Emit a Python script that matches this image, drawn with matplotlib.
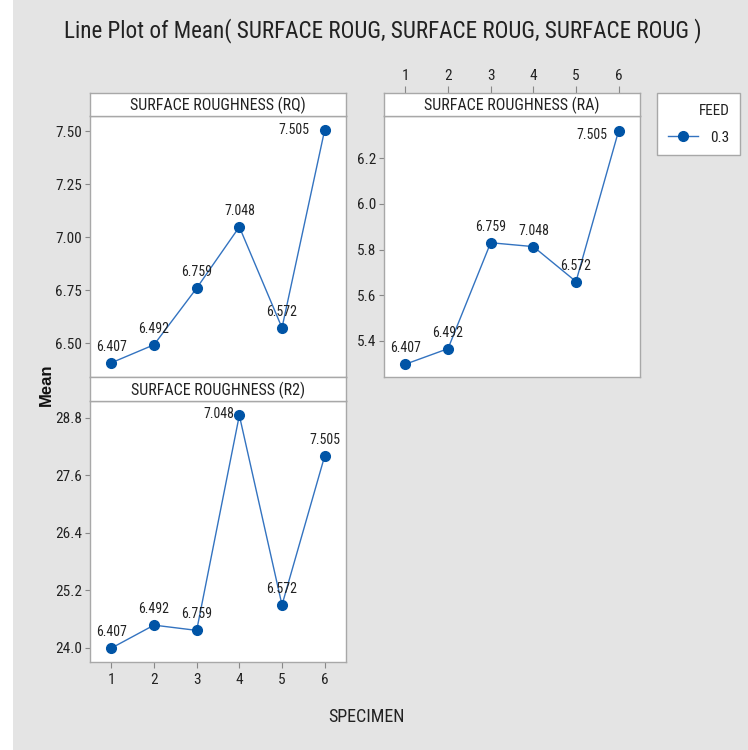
import matplotlib
matplotlib.use('Agg')
import matplotlib.pyplot as plt
from matplotlib import font_manager
from matplotlib.lines import Line2D

# =========================================================
# data
# =========================================================
specimen     = [1, 2, 3, 4, 5, 6]
rq_mean      = [6.407, 6.492, 6.759, 7.048, 6.572, 7.505]
ra_mean      = [5.298, 5.366, 5.830, 5.813, 5.660, 6.321]
r2_mean      = [23.99, 24.47, 24.36, 28.85, 24.89, 28.00]
point_labels = ['6.407', '6.492', '6.759', '7.048', '6.572', '7.505']
rq_yticks    = [6.50, 6.75, 7.00, 7.25, 7.50]
ra_yticks    = [5.4, 5.6, 5.8, 6.0, 6.2]
r2_yticks    = [24.0, 25.2, 26.4, 27.6, 28.8]
feed_level   = '0.3'

# =========================================================
# style
# =========================================================
W, H      = 748, 750
BG        = '#E4E4E4'
EDGE      = '#A8A8A8'
TXT       = '#222222'
LINE_C    = '#3373C0'
MARK_C    = '#0054A6'

names = {f.name for f in font_manager.fontManager.ttflist}
NARROW = next((n for n in ['Liberation Sans Narrow', 'Roboto Condensed',
                           'Open Sans Condensed', 'Noto Sans Condensed']
               if n in names), 'DejaVu Sans')
plt.rcParams['font.family'] = [NARROW, 'DejaVu Sans']


def box(l, t, r, b):
    # pixel box -> figure fraction
    return [l / W, 1 - b / H, (r - l) / W, (b - t) / H]


def strip(rect, title):
    ax = fig.add_axes(rect)
    ax.set_facecolor('white')
    ax.set_xlim(0.5, 6.5)
    ax.set_xticks([])
    ax.set_yticks([])
    for s in ax.spines.values():
        s.set_color(EDGE)
        s.set_linewidth(1.0)
    ax.text(0.5, 0.45, title, ha='center', va='center', fontsize=11.5,
            color=TXT, transform=ax.transAxes)
    return ax


def panel(rect, values, yticks, ylim, offsets, fmt):
    ax = fig.add_axes(rect)
    ax.set_facecolor('white')
    ax.plot(specimen, values, '-', color=LINE_C, linewidth=1.0, zorder=2)
    ax.plot(specimen, values, 'o', color=MARK_C, markersize=7, zorder=3)
    for x, y, lab, (dx, dy, ha) in zip(specimen, values, point_labels, offsets):
        ax.annotate(lab, (x, y), xytext=(dx, dy), textcoords='offset points',
                    ha=ha, va='center', fontsize=10, color=TXT)
    ax.set_xlim(0.5, 6.5)
    ax.set_ylim(*ylim)
    ax.set_yticks(yticks)
    ax.set_yticklabels([fmt.format(v) for v in yticks])
    ax.set_xticks([])
    ax.tick_params(axis='y', length=3.5, width=0.8, color='#888888',
                   labelsize=11, labelcolor=TXT, pad=2)
    for s in ax.spines.values():
        s.set_color(EDGE)
        s.set_linewidth(1.0)
    return ax


UP = (0, 11.5, 'center')

fig = plt.figure(figsize=(W / 100, H / 100), dpi=100)
fig.patch.set_facecolor(BG)
# white margin on the left edge
fig.add_artist(plt.Rectangle((0, 0), 13 / W, 1, transform=fig.transFigure,
                             facecolor='white', edgecolor='none'))

# RQ panel
panel(box(90, 116, 346, 377), rq_mean, rq_yticks, (6.34, 7.571),
      [UP, UP, UP, UP, UP, (-11, 0, 'right')], '{:.2f}')
strip(box(90, 93, 346, 116), 'SURFACE ROUGHNESS (RQ)')

# RA panel (x ticks on top of strip)
panel(box(384, 116, 640, 377), ra_mean, ra_yticks, (5.242, 6.385),
      [UP, UP, UP, UP, UP, (-8, -3.5, 'right')], '{:.1f}')
s_ra = strip(box(384, 93, 640, 116), 'SURFACE ROUGHNESS (RA)')
s_ra.xaxis.tick_top()
s_ra.set_xticks(specimen)
s_ra.set_xticklabels([str(v) for v in specimen])
s_ra.tick_params(axis='x', length=5, width=0.8, color='#888888',
                 labelsize=11, labelcolor=TXT, pad=2)

# R2 panel (x ticks on bottom)
ax_r2 = panel(box(90, 400.5, 346, 662), r2_mean, r2_yticks, (23.70, 29.16),
              [UP, UP, UP, (-4, 1.2, 'right'), UP, UP], '{:.1f}')
ax_r2.set_xticks(specimen)
ax_r2.set_xticklabels([str(v) for v in specimen])
ax_r2.tick_params(axis='x', length=4, width=0.8, color='#888888',
                  labelsize=11, labelcolor=TXT, pad=4)
strip(box(90, 377, 346, 400.5), 'SURFACE ROUGHNESS (R2)')

# legend
handle = Line2D([], [], color=LINE_C, linewidth=1.0, marker='o',
                markerfacecolor=MARK_C, markeredgecolor=MARK_C, markersize=7)
leg = fig.legend([handle], [feed_level], title='FEED', alignment='right',
                 loc='upper left', bbox_to_anchor=(657 / W, 1 - 93 / H),
                 borderaxespad=0, frameon=True, fancybox=False,
                 framealpha=1, facecolor='white',
                 fontsize=11, title_fontsize=11,
                 handlelength=2.0, borderpad=0.7, labelspacing=0.85,
                 handletextpad=0.8)
leg.get_frame().set_edgecolor(EDGE)
leg.get_frame().set_linewidth(1.0)
leg.get_title().set_color(TXT)
for t in leg.get_texts():
    t.set_color(TXT)

# titles
fig.text(383 / W, 1 - 31 / H,
         'Line Plot of Mean( SURFACE ROUG, SURFACE ROUG, SURFACE ROUG )',
         ha='center', va='center', fontsize=16.7, color=TXT)
fig.text(366 / W, 1 - 717 / H, 'SPECIMEN', ha='center', va='center',
         fontsize=13, color=TXT)
fig.text(46 / W, 1 - 385 / H, 'Mean', ha='center', va='center',
         rotation=90, fontsize=12, fontweight='bold', color='#111111',
         family=['Liberation Sans', 'DejaVu Sans'])

fig.savefig('out.png', dpi=100, facecolor=fig.get_facecolor())
